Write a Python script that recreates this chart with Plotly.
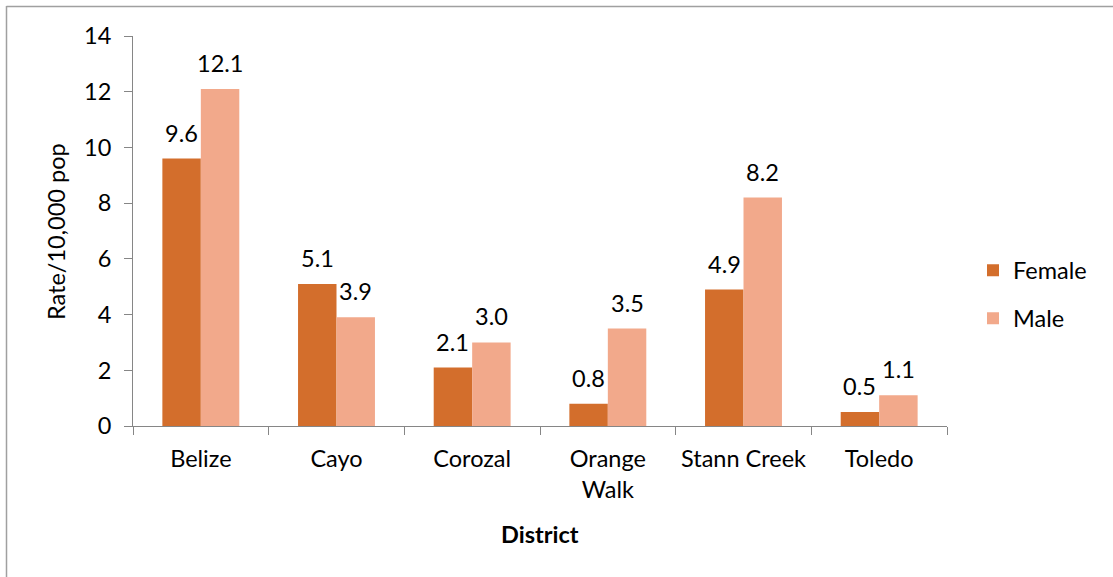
import plotly.graph_objects as go

districts = ["Belize", "Cayo", "Corozal", "Orange<br>Walk", "Stann Creek", "Toledo"]
female = [9.6, 5.1, 2.1, 0.8, 4.9, 0.5]
male = [12.1, 3.9, 3.0, 3.5, 8.2, 1.1]
y_ticks = [0, 2, 4, 6, 8, 10, 12, 14]

FONT = "Lato, Carlito, Calibri, sans-serif"
FS = 23.5
FEMALE_COLOR = "#D36E2C"
MALE_COLOR = "#F2A98B"
AXIS_GRAY = "#868686"
FRAME_GRAY = "#A0A0A0"

W, H = 1113, 577
L, R, T, B = 133, 166, 36, 151
PW, PH = W - L - R, H - T - B


def px_x(x):
    """Horizontal page pixel -> paper coordinate."""
    return (x - L) / PW


def px_y(y):
    """Vertical page pixel (from top) -> paper coordinate."""
    return (H - B - y) / PH


fig = go.Figure()
fig.add_trace(go.Bar(x=districts, y=female, name="Female",
                     marker=dict(color=FEMALE_COLOR, line=dict(width=0)),
                     legend="legend"))
fig.add_trace(go.Bar(x=districts, y=male, name="Male",
                     marker=dict(color=MALE_COLOR, line=dict(width=0)),
                     legend="legend2"))

# value labels centred above each bar
cat_w = PW / len(districts)
bargap = 0.433
half_bar = cat_w * (1 - bargap) / 4
annotations = []
for i, d in enumerate(districts):
    for vals, sign in ((female, -1), (male, 1)):
        annotations.append(dict(
            x=d, y=vals[i], xref="x", yref="y",
            text=f"{vals[i]:.1f}", showarrow=False,
            xshift=sign * half_bar, yanchor="bottom", yshift=10,
            font=dict(family=FONT, size=FS, color="#000000"),
        ))

# axis titles
annotations.append(dict(
    text="<b>District</b>", x=px_x(540), y=px_y(534), xref="paper", yref="paper",
    xanchor="center", yanchor="middle", showarrow=False,
    font=dict(family=FONT, size=FS, color="#000000"),
))
annotations.append(dict(
    text="Rate/10,000 pop", x=px_x(56), y=px_y(232), xref="paper", yref="paper",
    xanchor="center", yanchor="middle", showarrow=False, textangle=-90,
    font=dict(family=FONT, size=FS, color="#000000"),
))

fig.update_layout(
    width=W, height=H,
    margin=dict(l=L, r=R, t=T, b=B, autoexpand=False),
    paper_bgcolor="white", plot_bgcolor="white",
    barmode="group", bargap=bargap, bargroupgap=0,
    font=dict(family=FONT, size=FS, color="#000000"),
    showlegend=True,
    legend=dict(x=px_x(973), y=px_y(270.5), xanchor="left", yanchor="middle",
                font=dict(family=FONT, size=FS), bgcolor="rgba(0,0,0,0)"),
    legend2=dict(x=px_x(973), y=px_y(318.5), xanchor="left", yanchor="middle",
                 font=dict(family=FONT, size=FS), bgcolor="rgba(0,0,0,0)"),
    annotations=annotations,
    shapes=[
        # chart frame (top and left edges)
        dict(type="line", xref="paper", yref="paper",
             x0=px_x(6.5), x1=px_x(W + 5), y0=px_y(6.5), y1=px_y(6.5),
             line=dict(color=FRAME_GRAY, width=1.5)),
        dict(type="line", xref="paper", yref="paper",
             x0=px_x(6.5), x1=px_x(6.5), y0=px_y(6), y1=px_y(H + 5),
             line=dict(color=FRAME_GRAY, width=1.5)),
    ],
    xaxis=dict(
        type="category", tickson="boundaries", tickangle=0,
        ticks="outside", ticklen=8, tickcolor=AXIS_GRAY, tickwidth=1,
        showline=True, linecolor=AXIS_GRAY, linewidth=1,
        showgrid=False, tickfont=dict(family=FONT, size=FS),
        ticklabelstandoff=12, automargin=False,
    ),
    yaxis=dict(
        range=[0, 14], tickvals=y_ticks,
        ticks="outside", ticklen=8, tickcolor=AXIS_GRAY, tickwidth=1,
        showline=True, linecolor=AXIS_GRAY, linewidth=1,
        showgrid=False, zeroline=False, tickfont=dict(family=FONT, size=FS),
        ticklabelstandoff=8, automargin=False,
    ),
)

fig.write_html("out.html")
